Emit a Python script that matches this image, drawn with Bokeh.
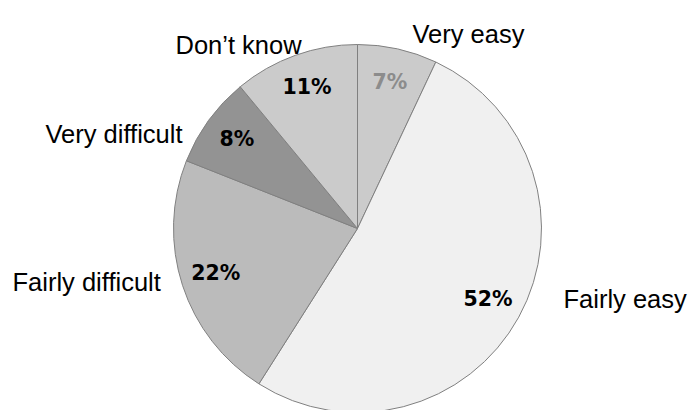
import numpy as np
from bokeh.plotting import figure
from bokeh.models import ColumnDataSource
from bokeh.core.properties import value
from bokeh.embed import file_html
from bokeh.resources import INLINE

# ---- data ----
categories = ["Very easy", "Fairly easy", "Fairly difficult", "Very difficult", "Don\u2019t know"]
shares = [7, 52, 22, 8, 11]
pct_labels = ["7%", "52%", "22%", "8%", "11%"]

# ---- style / layout ----
slice_colors = ["#cbcbcb", "#f0f0f0", "#bbbbbb", "#939393", "#cbcbcb"]
pct_colors = ["#8c8c8c", "#000000", "#000000", "#000000", "#000000"]
W, H = 688, 410
cx, cy_px, R = 357, 228, 184
cy = H - cy_px

# category label placement (pixel coords, baseline)
cat_x = [412, 563, 12, 182, 175]
cat_y_px = [33, 298, 281, 133, 44]
cat_align = ["left", "left", "left", "right", "left"]

frac = np.array(shares, dtype=float) / sum(shares)
cum = np.cumsum(frac)
start = cum - frac
a_start = np.pi / 2 - cum * 2 * np.pi
a_end = np.pi / 2 - start * 2 * np.pi
mid = np.pi / 2 - (start + frac / 2) * 2 * np.pi

src = ColumnDataSource(dict(
    cat=categories, share=shares, sa=a_start, ea=a_end, color=slice_colors,
    lx=cx + 0.81 * R * np.cos(mid), ly=cy + 0.81 * R * np.sin(mid) + 1.5,
    pct=pct_labels, pcolor=pct_colors,
))

p = figure(width=W, height=H, x_range=(0, W), y_range=(0, H),
           x_axis_type=None, y_axis_type=None, toolbar_location=None,
           output_backend="svg", min_border=0)
p.grid.visible = False
p.outline_line_color = None
p.background_fill_color = "white"
p.border_fill_color = "white"

p.wedge(x=cx, y=cy, radius=R, start_angle="sa", end_angle="ea",
        direction="anticlock", fill_color="color", line_color="#808080",
        line_width=1, source=src)

p.text(x="lx", y="ly", text="pct", text_color="pcolor", source=src,
       text_font=value("DejaVu Sans"), text_font_style="bold",
       text_font_size="20.5px", text_align="center", text_baseline="middle")

lab_src = ColumnDataSource(dict(
    x=cat_x, y=[H - v for v in cat_y_px], text=categories, align=cat_align))
p.text(x="x", y="y", text="text", source=lab_src,
       text_font=value("Liberation Sans"), text_font_size="25.5px",
       text_color="#000000", text_align="align", text_baseline="alphabetic")

open("out.html", "w").write(file_html(p, INLINE))
